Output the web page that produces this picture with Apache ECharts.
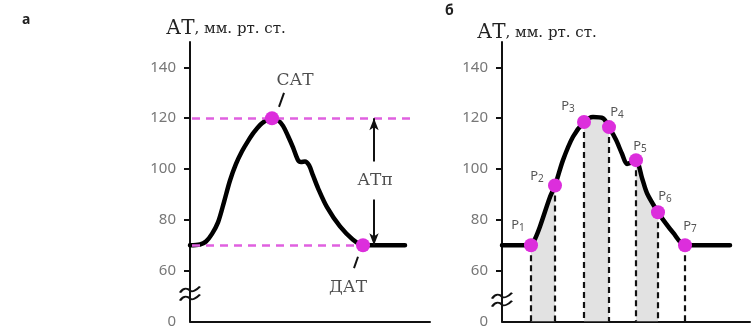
<!DOCTYPE html>
<html><head><meta charset="utf-8">
<script src="https://cdn.jsdelivr.net/npm/echarts@6/dist/echarts.min.js"></script>
<style>html,body{margin:0;padding:0;background:#fff}#c{width:751px;height:329px}</style>
</head><body><div id="c"></div>
<script>
// ---- data (time in arbitrary units, pressure in mmHg; 40 on the scale = broken-axis "0") ----
const yTicks = [60, 80, 100, 120, 140];
const yBreakValue = 40;           // drawn as "0" below the axis break
const leftT = [0, 10, 16, 22, 28, 34, 40, 46, 52, 58, 64, 72, 82, 88, 93, 98, 103, 108, 111, 115, 119, 123, 128, 137, 150, 163, 173, 183, 215];
const leftV = [70, 70.3, 71.5, 74.5, 79, 87, 95.5, 102, 107, 111, 114.5, 118, 120, 119.2, 117, 113, 108.5, 103.5, 102.8, 103, 101.5, 97.5, 92.5, 85, 77.4, 72.2, 70, 70, 70];
const satT = 82, satV = 120;      // systolic
const datT = 173, datV = 70;      // diastolic
const sysLineEnd = 222, diaLineEnd = 173;
const arrowT = 184;

const rightT = [0, 29, 33, 38, 48, 53, 61, 71, 82, 91, 101, 107, 114, 120, 125, 129, 134, 140, 145, 156, 164, 171, 183, 195, 228];
const rightV = [70, 70, 72.5, 77.4, 89, 93.5, 103.5, 112.7, 118.5, 120.5, 120, 116.5, 111.5, 106, 102, 102.5, 103.5, 96.5, 90.5, 83, 78.5, 75, 70, 70, 70];
const pNames = ['1', '2', '3', '4', '5', '6', '7'];
const pT = [29, 53, 82, 107, 134, 156, 183];
const pV = [70, 93.5, 118.5, 116.5, 103.5, 83, 70];
const shadedPairs = [[0, 1], [2, 3], [4, 5]];

// ---- styles ----
const MAG = '#dc2edc';
const SERIF = '"DejaVu Serif", "Liberation Serif", serif';
const SANS = '"Noto Sans", "Open Sans", sans-serif';
const SMOOTH = 0.3;
const pLabelOffsets = [[-13, -20], [-18, -9], [-16, -16], [8, -15], [4, -14], [7, -16], [5, -19]];

function zip(a, b) { return a.map((v, i) => [v, b[i]]); }

function yAxis(gi) {
  return {
    gridIndex: gi, type: 'value', min: 40, max: 150,
    axisLine: { show: true, lineStyle: { color: '#111', width: 2 } },
    axisTick: { show: true, inside: false, length: 6, lineStyle: { color: '#111', width: 2 }, customValues: yTicks },
    axisLabel: { show: true, margin: 14, color: '#777', fontSize: 15, fontFamily: SANS,
      customValues: [yBreakValue].concat(yTicks),
      formatter: v => v === yBreakValue ? '0' : String(v) },
    splitLine: { show: false }
  };
}
function xAxis(gi, max) {
  return {
    gridIndex: gi, type: 'value', min: 0, max: max,
    axisLine: { show: true, onZero: false, lineStyle: { color: '#111', width: 2 } },
    axisTick: { show: false }, axisLabel: { show: false }, splitLine: { show: false }
  };
}
const breakPath = 'path://M0,6 C4,0 8,2 10,4 C12,6 16,4 20,0 M0,14 C4,8 8,10 10,12 C12,14 16,12 20,8';
function breakSeries(xi, yv) {
  return {
    type: 'scatter', xAxisIndex: xi, yAxisIndex: xi, data: [[0, yv]], silent: true,
    symbol: breakPath, symbolSize: [20, 14],
    itemStyle: { color: 'none', borderColor: '#111', borderWidth: 2, opacity: 1 }, z: 5
  };
}

const series = [];
// left panel: horizontal dashed reference lines
series.push({
  type: 'line', xAxisIndex: 0, yAxisIndex: 0, data: [], silent: true,
  markLine: { symbol: 'none', silent: true, label: { show: false },
    lineStyle: { color: '#e060e0', width: 2.5, type: [8, 6] },
    data: [[{ coord: [2, satV] }, { coord: [sysLineEnd, satV] }],
           [{ coord: [2, datV] }, { coord: [diaLineEnd, datV] }]] }
});
// left curve
series.push({
  type: 'line', xAxisIndex: 0, yAxisIndex: 0, data: zip(leftT, leftV), smooth: SMOOTH,
  symbol: 'none', lineStyle: { color: '#000', width: 4.5, join: 'round', cap: 'round' }, z: 3
});
// arrows for pulse pressure
series.push({
  type: 'line', xAxisIndex: 0, yAxisIndex: 0, data: [], silent: true,
  markLine: { symbol: ['none', 'arrow'], symbolSize: [7, 12], silent: true, label: { show: false },
    lineStyle: { color: '#111', width: 2, type: 'solid' },
    data: [[{ coord: [arrowT, 103] }, { coord: [arrowT, satV] }],
           [{ coord: [arrowT, 88] }, { coord: [arrowT, datV] }]] }
});
// SAT / DAT points
series.push({
  type: 'scatter', xAxisIndex: 0, yAxisIndex: 0, data: [[satT, satV], [datT, datV]],
  symbolSize: 14, itemStyle: { color: MAG, opacity: 1 }, z: 6
});
// leader lines
series.push({
  type: 'line', xAxisIndex: 0, yAxisIndex: 0, data: [], silent: true,
  markLine: { symbol: 'none', silent: true, label: { show: false },
    lineStyle: { color: '#111', width: 2, type: 'solid' },
    data: [[{ coord: [89, 124.5] }, { coord: [94, 130] }],
           [{ coord: [168, 65.5] }, { coord: [164, 61] }]] }
});
// text labels
series.push({
  type: 'scatter', xAxisIndex: 0, yAxisIndex: 0, symbol: 'circle', symbolSize: 1, silent: true,
  itemStyle: { color: 'rgba(0,0,0,0)' },
  data: [
    { value: [105, 135], label: { formatter: 'САТ' } },
    { value: [158, 53.5], label: { formatter: 'ДАТ' } },
    { value: [arrowT + 1, 95.5], label: { formatter: 'АТп' } }
  ],
  label: { show: true, position: 'inside', color: '#222', fontFamily: SERIF, fontSize: 17 }, z: 7
});
series.push(breakSeries(0, 51));

// right panel: shaded bands
shadedPairs.forEach(([a, b]) => {
  const seg = zip(rightT, rightV).filter(d => d[0] >= pT[a] && d[0] <= pT[b]);
  series.push({
    type: 'line', xAxisIndex: 1, yAxisIndex: 1, data: seg, smooth: SMOOTH, symbol: 'none', silent: true,
    lineStyle: { width: 0 }, areaStyle: { color: '#e2e2e2', opacity: 1, origin: 'start' }, z: 1
  });
});
// vertical dashed lines
series.push({
  type: 'line', xAxisIndex: 1, yAxisIndex: 1, data: [], silent: true,
  markLine: { symbol: 'none', silent: true, label: { show: false },
    lineStyle: { color: '#111', width: 2.2, type: [6, 4] },
    data: pT.map((t, i) => [{ coord: [t, pV[i]] }, { coord: [t, 40] }]) }
});
// right curve
series.push({
  type: 'line', xAxisIndex: 1, yAxisIndex: 1, data: zip(rightT, rightV), smooth: SMOOTH,
  symbol: 'none', lineStyle: { color: '#000', width: 4.5, join: 'round', cap: 'round' }, z: 3
});
// P points with labels
series.push({
  type: 'scatter', xAxisIndex: 1, yAxisIndex: 1,
  data: pT.map((t, i) => ({
    value: [t, pV[i]],
    label: { offset: pLabelOffsets[i], formatter: '{p|P}{s|' + pNames[i] + '}' }
  })),
  symbolSize: 14, itemStyle: { color: MAG, opacity: 1 }, z: 6,
  label: { show: true, position: 'inside', rich: {
    p: { fontFamily: SANS, fontSize: 13, color: '#555' },
    s: { fontFamily: SANS, fontSize: 10, color: '#555', verticalAlign: 'bottom', padding: [6, 0, 0, 0] } } }
});
series.push(breakSeries(1, 48.6));

const chart = echarts.init(document.getElementById('c'), null, { renderer: 'canvas' });
chart.setOption({
  animation: false,
  backgroundColor: '#fff',
  grid: [
    { left: 190, top: 42, width: 240, height: 280 },
    { left: 502, top: 42, width: 248, height: 280 }
  ],
  xAxis: [xAxis(0, 240), xAxis(1, 248)],
  yAxis: [yAxis(0), yAxis(1)],
  graphic: [
    { type: 'text', left: 22, top: 13, style: { text: 'а', font: 'bold 14px ' + SANS, fill: '#222' } },
    { type: 'text', left: 445, top: 4, style: { text: 'б', font: 'bold 14px ' + SANS, fill: '#222' } },
    { type: 'text', left: 166, top: 19, style: { text: '{a|АТ}{b|, мм. рт. ст.}', rich: {
        a: { fontFamily: SERIF, fontSize: 20, fill: '#222' }, b: { fontFamily: SERIF, fontSize: 15, fill: '#222' } } } },
    { type: 'text', left: 477, top: 23, style: { text: '{a|АТ}{b|, мм. рт. ст.}', rich: {
        a: { fontFamily: SERIF, fontSize: 20, fill: '#222' }, b: { fontFamily: SERIF, fontSize: 15, fill: '#222' } } } }
  ],
  series: series
});
</script></body></html>
